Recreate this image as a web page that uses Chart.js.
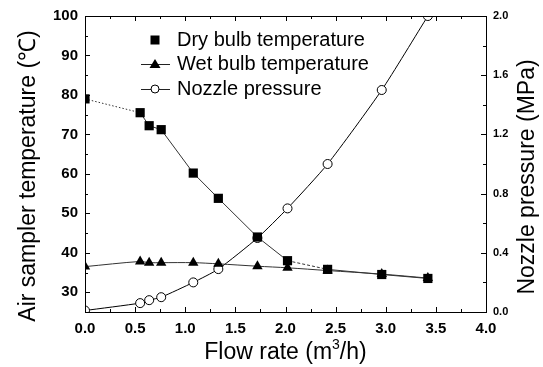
<!DOCTYPE html>
<html>
<head>
<meta charset="utf-8">
<script src="https://cdn.jsdelivr.net/npm/chart.js@4"></script>
<style>
html,body{margin:0;padding:0;background:#fff;}
#wrap{width:543px;height:367px;}
</style>
</head>
<body>
<div id="wrap"><canvas id="c" width="543" height="367"></canvas></div>
<script>
const flowRate = [0, 0.55, 0.64, 0.76, 1.08, 1.33, 1.72, 2.02, 2.42, 2.96, 3.42];
const dryBulb = [79, 75.5, 72.2, 71.2, 60.2, 53.8, 44, 38, 35.8, 34.5, 33.5];
const wetBulb = [36.5, 37.8, 37.5, 37.5, 37.5, 37.2, 36.6, 36.2, 35.5, 34.6, 33.6];
const nozzlePressure = [0.01, 0.06, 0.08, 0.1, 0.2, 0.29, 0.5, 0.7, 1.0, 1.5, 2.0];
const seriesNames = ['Dry bulb temperature', 'Wet bulb temperature', 'Nozzle pressure'];
const xTitle = 'Flow rate (m';
const yTitle = 'Air sampler temperature (\u2103)';
const y2Title = 'Nozzle pressure (MPa)';

const FONT = 'Arial, "Liberation Sans", sans-serif';
const pts = (ys) => flowRate.map((x, i) => ({x: x, y: ys[i]}));

const framePlugin = {
  id: 'frame',
  afterDraw(chart) {
    const ctx = chart.ctx, a = chart.chartArea;
    const sx = chart.scales.x, sy = chart.scales.y, sy2 = chart.scales.y2;
    ctx.save();
    ctx.strokeStyle = '#000';
    ctx.lineWidth = 1;
    ctx.strokeRect(Math.round(a.left) + 0.5, Math.round(a.top) + 0.5, Math.round(a.right - a.left), Math.round(a.bottom - a.top));
    ctx.beginPath();
    // x ticks bottom & top (inward)
    for (let v = 0; v <= 4.0001; v += 0.25) {
      const px = Math.round(sx.getPixelForValue(v)) + 0.5;
      const len = (Math.abs(v / 0.5 - Math.round(v / 0.5)) < 1e-6) ? 5 : 3;
      ctx.moveTo(px, a.bottom); ctx.lineTo(px, a.bottom - len);
      ctx.moveTo(px, a.top); ctx.lineTo(px, a.top + len);
    }
    // left y ticks
    for (let v = 25; v <= 100.001; v += 5) {
      const py = Math.round(sy.getPixelForValue(v)) + 0.5;
      const len = (v % 10 === 0) ? 5 : 3;
      ctx.moveTo(a.left, py); ctx.lineTo(a.left + len, py);
    }
    // right y ticks
    for (let k = 0; k <= 10; k++) {
      const v = k * 0.2;
      const py = Math.round(sy2.getPixelForValue(v)) + 0.5;
      const len = (k % 2 === 0) ? 5 : 3;
      ctx.moveTo(a.right, py); ctx.lineTo(a.right - len, py);
    }
    ctx.stroke();

    // axis titles
    ctx.fillStyle = '#000';
    ctx.font = '23px ' + FONT;
    // x title with superscript
    const main = xTitle, sup = '3', tail = '/h)';
    const w1 = ctx.measureText(main).width, w3 = ctx.measureText(tail).width;
    ctx.font = '14px ' + FONT;
    const w2 = ctx.measureText(sup).width;
    const total = w1 + w2 + w3;
    const cx = (a.left + a.right) / 2;
    let x0 = cx - total / 2;
    const by = 359;
    ctx.textBaseline = 'alphabetic';
    ctx.textAlign = 'left';
    ctx.font = '23px ' + FONT;
    ctx.fillText(main, x0, by);
    ctx.font = '14px ' + FONT;
    ctx.fillText(sup, x0 + w1, by - 10);
    ctx.font = '23px ' + FONT;
    ctx.fillText(tail, x0 + w1 + w2, by);

    // left title
    ctx.save();
    ctx.translate(29, 176);
    ctx.rotate(-Math.PI / 2);
    ctx.textAlign = 'center';
    ctx.textBaseline = 'middle';
    ctx.fillText(yTitle, 0, 0);
    ctx.restore();
    // right title
    ctx.save();
    ctx.translate(528, 177);
    ctx.rotate(-Math.PI / 2);
    ctx.textAlign = 'center';
    ctx.textBaseline = 'middle';
    ctx.fillText(y2Title, 0, 0);
    ctx.restore();

    // legend
    const lx = 155, tx = 177;
    const rows = [40, 64, 89];
    ctx.font = '20px ' + FONT;
    ctx.textAlign = 'left';
    ctx.textBaseline = 'middle';
    ctx.lineWidth = 1;
    // dry: square only
    ctx.fillStyle = '#000';
    ctx.fillRect(lx - 4.5, rows[0] - 4.5, 9, 9);
    ctx.fillText(seriesNames[0], tx, rows[0]);
    // wet: line + triangle
    ctx.strokeStyle = '#222';
    ctx.beginPath(); ctx.moveTo(141, rows[1] + 0.5); ctx.lineTo(170, rows[1] + 0.5); ctx.stroke();
    ctx.beginPath();
    ctx.moveTo(lx, rows[1] - 5); ctx.lineTo(lx + 5.5, rows[1] + 4); ctx.lineTo(lx - 5.5, rows[1] + 4); ctx.closePath();
    ctx.fill();
    ctx.fillText(seriesNames[1], tx, rows[1]);
    // nozzle: line + open circle
    ctx.beginPath(); ctx.moveTo(141, rows[2] + 0.5); ctx.lineTo(170, rows[2] + 0.5); ctx.stroke();
    ctx.beginPath(); ctx.arc(lx, rows[2], 4, 0, Math.PI * 2);
    ctx.fillStyle = '#fff'; ctx.fill(); ctx.strokeStyle = '#000'; ctx.stroke();
    ctx.fillStyle = '#000';
    ctx.fillText(seriesNames[2], tx, rows[2]);
    ctx.restore();
  }
};

new Chart(document.getElementById('c'), {
  type: 'line',
  data: {
    datasets: [
      {
        label: seriesNames[0],
        data: pts(dryBulb),
        yAxisID: 'y',
        borderColor: '#333',
        borderWidth: 1,
        pointStyle: 'rect',
        pointRadius: 6.5,
        pointBackgroundColor: '#000',
        pointBorderColor: '#000',
        pointBorderWidth: 0,
        segment: {
          borderDash: (c) => (c.p0DataIndex === 0 ? [1.5, 2] : (c.p0DataIndex === 7 ? [3, 2] : undefined))
        }
      },
      {
        label: seriesNames[1],
        data: pts(wetBulb),
        yAxisID: 'y',
        borderColor: '#333',
        borderWidth: 1,
        tension: 0.3,
        pointStyle: 'triangle',
        pointRadius: 6,
        pointBackgroundColor: '#000',
        pointBorderColor: '#000',
        pointBorderWidth: 0
      },
      {
        label: seriesNames[2],
        data: pts(nozzlePressure),
        yAxisID: 'y2',
        borderColor: '#000',
        borderWidth: 1,
        tension: 0.2,
        pointStyle: 'circle',
        pointRadius: 4.5,
        pointBackgroundColor: '#fff',
        pointBorderColor: '#000',
        pointBorderWidth: 1
      }
    ]
  },
  options: {
    responsive: false,
    animation: false,
    devicePixelRatio: 1,
    layout: {padding: {top: 12, left: 0, right: 0, bottom: 0}},
    plugins: {legend: {display: false}, tooltip: {enabled: false}},
    scales: {
      x: {
        type: 'linear',
        min: 0, max: 4,
        grid: {display: false, drawTicks: false},
        border: {display: false},
        ticks: {
          stepSize: 0.5,
          padding: 8,
          color: '#000',
          font: {family: FONT, size: 15, weight: 'bold'},
          callback: (v) => Number(v).toFixed(1)
        },
        afterFit: (s) => { s.height = 55; }
      },
      y: {
        position: 'left',
        min: 25, max: 100,
        grid: {display: false, drawTicks: false},
        border: {display: false},
        ticks: {
          stepSize: 10,
          padding: 7,
          color: '#000',
          font: {family: FONT, size: 15, weight: 'bold'},
          callback: (v) => (v % 10 === 0 ? String(v) : '')
        },
        afterBuildTicks: (s) => { s.ticks = [30, 40, 50, 60, 70, 80, 90, 100].map(v => ({value: v})); },
        afterFit: (s) => { s.width = 85; }
      },
      y2: {
        position: 'right',
        min: 0, max: 2,
        grid: {display: false, drawTicks: false},
        border: {display: false},
        ticks: {
          stepSize: 0.4,
          padding: 7,
          color: '#000',
          font: {family: FONT, size: 11, weight: 'bold'},
          callback: (v) => Number(v).toFixed(1)
        },
        afterFit: (s) => { s.width = 57; }
      }
    }
  },
  plugins: [framePlugin]
});
</script>
</body>
</html>
